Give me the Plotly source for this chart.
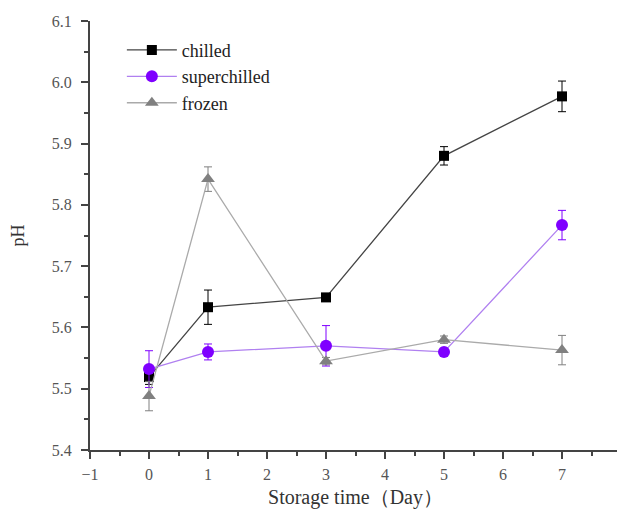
import plotly.graph_objects as go

days = [0, 1, 3, 5, 7]
chilled = [5.519, 5.633, 5.649, 5.880, 5.977]
chilled_err = [0.012, 0.028, 0.006, 0.015, 0.025]
superchilled = [5.532, 5.560, 5.570, 5.560, 5.767]
superchilled_err = [0.030, 0.013, 0.033, 0.006, 0.024]
frozen = [5.488, 5.842, 5.545, 5.580, 5.563]
frozen_err = [0.024, 0.020, 0.006, 0.006, 0.024]

series = [
    ("chilled", chilled, chilled_err, "#000000", "#444444", "square", 10),
    ("superchilled", superchilled, superchilled_err, "#7F00FF", "#B080F0", "circle", 12),
    ("frozen", frozen, frozen_err, "#808080", "#AAAAAA", "triangle-up", 12),
]

fig = go.Figure()
for name, ys, err, mcol, lcol, sym, sz in series:
    fig.add_trace(go.Scatter(
        x=days, y=ys, name=name, mode="lines+markers",
        line=dict(color=lcol, width=1.3),
        marker=dict(color=mcol, symbol=sym, size=sz),
        error_y=dict(type="data", array=err, visible=True, color=mcol, thickness=1, width=4),
    ))

font_family = "Liberation Serif, Times New Roman, serif"
fig.update_layout(
    width=617, height=502,
    margin=dict(l=82, r=4, t=13, b=60),
    plot_bgcolor="white", paper_bgcolor="white",
    font=dict(family=font_family, size=15, color="#333333"),
    legend=dict(x=0.06, y=0.975, xanchor="left", yanchor="top",
                font=dict(size=18, color="#222222"), bgcolor="rgba(0,0,0,0)",
                tracegroupgap=0, itemwidth=50),
    xaxis=dict(range=[-1, 8], tickmode="linear", tick0=-1, dtick=1, automargin=False,
               ticklabeloverflow="allow",
               showgrid=False, zeroline=False, showline=True, linecolor="#444444", linewidth=2,
               ticks="outside", ticklen=7, tickwidth=2, tickcolor="#444444",
               minor=dict(ticks="outside", ticklen=4, tickwidth=2, tickcolor="#444444", dtick=0.5, showgrid=False),
               tickfont=dict(size=16, color="#555555"), ticklabelstandoff=2,
               title=dict(text="Storage time（Day）", font=dict(size=20, color="#333333"), standoff=8)),
    yaxis=dict(range=[5.4, 6.1], tickmode="linear", tick0=5.4, dtick=0.1, tickformat=".1f", automargin=False,
               showgrid=False, zeroline=False, showline=True, linecolor="#444444", linewidth=2,
               ticks="outside", ticklen=7, tickwidth=2, tickcolor="#444444",
               minor=dict(ticks="outside", ticklen=4, tickwidth=2, tickcolor="#444444", dtick=0.05, showgrid=False),
               tickfont=dict(size=16, color="#555555"), ticklabelstandoff=6,
               title=dict(text="pH", font=dict(size=18, color="#333333"), standoff=24)),
)

fig.write_html("out.html")
